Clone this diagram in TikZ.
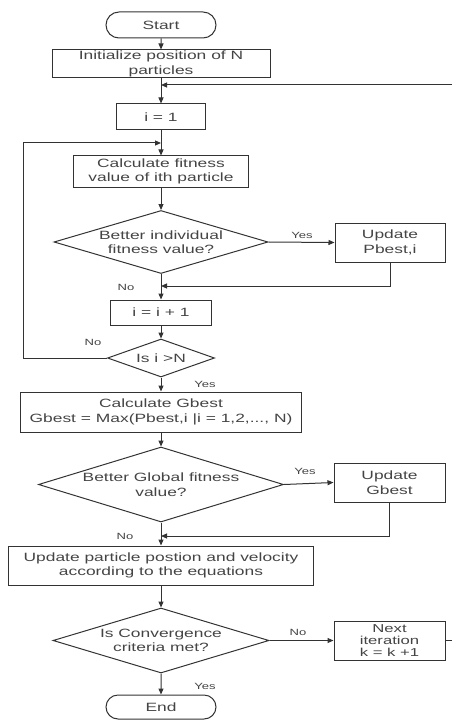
\documentclass[tikz,border=0pt]{standalone}
\usepackage{fontspec}
\setmainfont{Liberation Sans}[FakeStretch=1.45]
\usetikzlibrary{shapes.geometric,shapes.misc,arrows.meta}
\definecolor{ln}{HTML}{333333}
\definecolor{tx}{HTML}{444444}
\tikzset{
  base/.style={draw=ln, line width=1pt, text=tx, align=center, inner sep=0pt,
    font=\fontsize{12}{14.5}\selectfont},
  procbox/.style={base, rectangle},
  term/.style={base, rounded rectangle, minimum width=110pt},
  decide/.style={base, diamond, aspect=3.4},
  arr/.style={draw=ln, line width=1pt, -{Triangle[length=6pt,width=5pt]}},
  ln/.style={draw=ln, line width=1pt},
  lbl/.style={text=tx, font=\fontsize{9}{10}\selectfont, inner sep=0pt}
}
\begin{document}
\begin{tikzpicture}[x=1pt,y=1pt]
\useasboundingbox (0,0) rectangle (452,-722);
% nodes
\node[term, minimum height=26pt] (start) at (161,-25) {Start};
\node[procbox, minimum width=218pt, minimum height=28pt] (init) at (161,-64) {Initialize position of N\\particles};
\node[procbox, minimum width=89pt, minimum height=26pt] (i1) at (161,-117) {i = 1};
\node[procbox, minimum width=175pt, minimum height=31pt] (calc) at (161,-171.5) {Calculate fitness\\value of ith particle};
\node[decide, minimum width=214pt, minimum height=63pt] (d1) at (161,-242) {Better individual\\fitness value?};
\node[procbox, minimum width=110pt, minimum height=39pt] (pbest) at (390,-242.5) {Update\\Pbest,i};
\node[procbox, minimum width=101pt, minimum height=25pt] (inc) at (161,-312.5) {i = i + 1};
\node[decide, minimum width=107pt, minimum height=38pt] (di) at (161,-358) {Is i >N};
\node[procbox, minimum width=281pt, minimum height=40pt] (gcalc) at (161,-412) {Calculate Gbest\\Gbest = Max(Pbest,i |i = 1,2,..., N)};
\node[decide, minimum width=245pt, minimum height=75pt] (d2) at (161,-484.5) {Better Global fitness\\value?};
\node[procbox, minimum width=111pt, minimum height=39pt] (gbest) at (389.5,-482.5) {Update\\Gbest};
\node[procbox, minimum width=305pt, minimum height=39pt] (upd) at (161,-565.5) {Update particle postion and velocity\\according to the equations};
\node[decide, minimum width=216pt, minimum height=65pt] (d3) at (161,-640.5) {Is Convergence\\criteria met?};
\node[procbox, minimum width=111pt, minimum height=39pt, font=\fontsize{11.5}{12}\selectfont] (next) at (389.5,-640.5) {Next\\iteration\\k = k +1};
\node[term, minimum height=24pt] (end) at (161,-707) {End};
% coordinates
\coordinate (fbR) at (452,-85);
\coordinate (fbJ) at (161,-85);
\coordinate (nxR) at (452,-640.5);
\coordinate (lpL) at (23,-143);
\coordinate (lpJ) at (161,-143);
\coordinate (j1) at (161,-286);
\coordinate (j2) at (161,-536);
% connectors
\draw[arr] (start) -- (init);
\draw[arr] (init) -- (i1);
\draw[arr] (fbR) -- (fbJ);
\draw[ln] (next.east) -- (nxR);
\draw[arr] (i1) -- (calc);
\draw[arr] (di.west) -| (lpL) -- (lpJ);
\draw[arr] (calc) -- (d1);
\draw[arr] (d1.east) -- (pbest.west);
\draw[arr] (pbest.south) |- (j1);
\draw[arr] (d1.south) -- (inc);
\draw[arr] (inc) -- (di);
\draw[arr] (di.south) -- (gcalc);
\draw[arr] (gcalc) -- (d2);
\draw[arr] (d2.east) -- (gbest.west);
\draw[arr] (gbest.south) |- (j2);
\draw[arr] (d2.south) -- (upd);
\draw[arr] (upd) -- (d3);
\draw[arr] (d3.east) -- (next.west);
\draw[arr] (d3.south) -- (end);
% labels
\node[lbl] (y1) at (302,-235) {Yes};
\node[lbl] (n1) at (126,-287) {No};
\node[lbl] (n2) at (93,-342) {No};
\node[lbl] (y2) at (205,-384) {Yes};
\node[lbl] (y3) at (305,-471) {Yes};
\node[lbl] (n3) at (125,-536) {No};
\node[lbl] (n4) at (298,-632) {No};
\node[lbl] (y4) at (205,-686) {Yes};
\end{tikzpicture}
\end{document}
